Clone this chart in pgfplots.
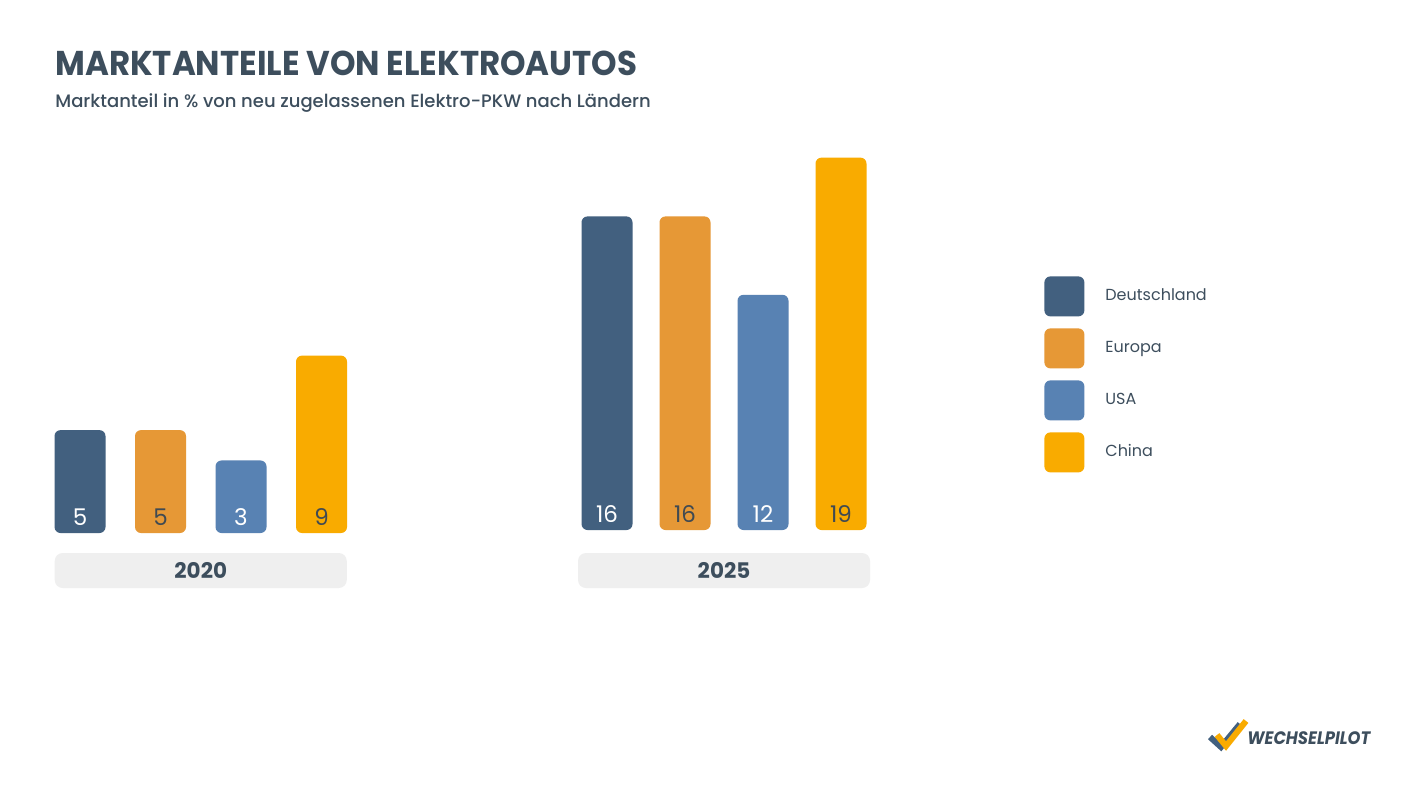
\documentclass[border=0pt]{standalone}
\usepackage{fontspec}
\setmainfont{Poppins}
\newfontfamily\pmed{Poppins Medium}
\usepackage{pgfplots}
\pgfplotsset{compat=1.18}
\definecolor{txt}{HTML}{3D4E5D}
\definecolor{de}{HTML}{42607F}
\definecolor{eu}{HTML}{E69836}
\definecolor{us}{HTML}{5882B3}
\definecolor{cn}{HTML}{F9AB00}
\definecolor{boxc}{HTML}{EFEFEF}
\definecolor{lbl}{HTML}{404A52}
\pgfplotsset{
  base/.style={scale only axis, height=196pt, ymin=0, ymax=20, xmin=-0.5, xmax=3.5,
    axis line style={draw=none}, xtick=\empty, ytick=\empty, clip=false,
    xlabel style={at={(axis description cs:0.5,0)}, anchor=center, yshift=-18.75pt,
      fill=boxc, rounded corners=4pt, minimum width=146pt, minimum height=17.5pt,
      inner sep=0pt, font=\fontsize{10.75}{12}\selectfont\bfseries, text=txt}},
  cbar/.style={ybar, bar width=25.5pt, bar shift=0pt, draw=none, fill=#1, rounded corners=3pt,
    legend image code/.code={\fill[fill=#1, rounded corners=3pt] (0pt,-10pt) rectangle (20pt,10pt);}},
  vlab/.style={forget plot, draw=none, mark=none,
    nodes near coords, point meta=explicit symbolic,
    every node near coord/.append style={anchor=center, yshift=8pt, inner sep=0pt,
      font=\fontsize{11.5}{12}\selectfont, text=#1}},
}
\begin{document}
\begin{tikzpicture}
\fill[white] (0pt,0pt) rectangle (711.5pt,400pt);
\path[use as bounding box] (0pt,0pt) rectangle (711.5pt,400pt);
\node[anchor=base west, inner sep=0pt, text=txt, font=\fontsize{17.2}{20}\selectfont\bfseries] at (27.5pt,362.25pt) {\scalebox{0.943}[1]{MARKTANTEILE VON ELEKTROAUTOS}};
\node[anchor=base west, inner sep=0pt, text=txt, font=\fontsize{9}{10}\selectfont\pmed] at (27.5pt,346.5pt) {Marktanteil in \% von neu zugelassenen Elektro-PKW nach Ländern};

% 2020
\begin{axis}[base, at={(19.875pt,133.5pt)}, anchor=south west, width=161pt, xlabel={2020}]
\addplot[cbar=de] coordinates {(0,5.25)};
\addplot[cbar=eu] coordinates {(1,5.25)};
\addplot[cbar=us] coordinates {(2,3.7)};
\addplot[cbar=cn] coordinates {(3,9.05)};
\addplot[vlab=white] coordinates {(0,0)[5] (2,0)[3]};
\addplot[vlab=lbl] coordinates {(1,0)[5] (3,0)[9]};
\end{axis}

% 2025
\begin{axis}[base, at={(284pt,135pt)}, anchor=south west, width=156pt, xlabel={2025},
  xlabel style={yshift=-1.5pt},
  legend style={at={(axis description cs:1.5256,0.648)}, anchor=north west, draw=none, fill=none,
    inner sep=0pt, row sep=6pt, column sep=10.5pt, font=\fontsize{8}{10}\selectfont, text=txt,
    nodes={inner sep=0pt}},
  legend cell align=left]
\addplot[cbar=de] coordinates {(0,16)};
\addplot[cbar=eu] coordinates {(1,16)};
\addplot[cbar=us] coordinates {(2,12)};
\addplot[cbar=cn] coordinates {(3,19)};
\addplot[vlab=white] coordinates {(0,0)[16] (2,0)[12]};
\addplot[vlab=lbl] coordinates {(1,0)[16] (3,0)[19]};
\legend{Deutschland, Europa, USA, China}
\end{axis}

% logo
\draw[de, line width=3pt, line join=miter] (605pt,31.5pt) -- (610.5pt,26.5pt) -- (620pt,38pt);
\draw[cn, line width=3pt, line join=miter] (608.5pt,32.5pt) -- (613pt,27pt) -- (623pt,39.5pt);
\node[anchor=base west, inner sep=0pt, text=txt, font=\fontsize{9}{10}\selectfont\bfseries\itshape] at (623.5pt,28pt) {\scalebox{0.91}[1]{WECHSELPILOT}};
\end{tikzpicture}
\end{document}
